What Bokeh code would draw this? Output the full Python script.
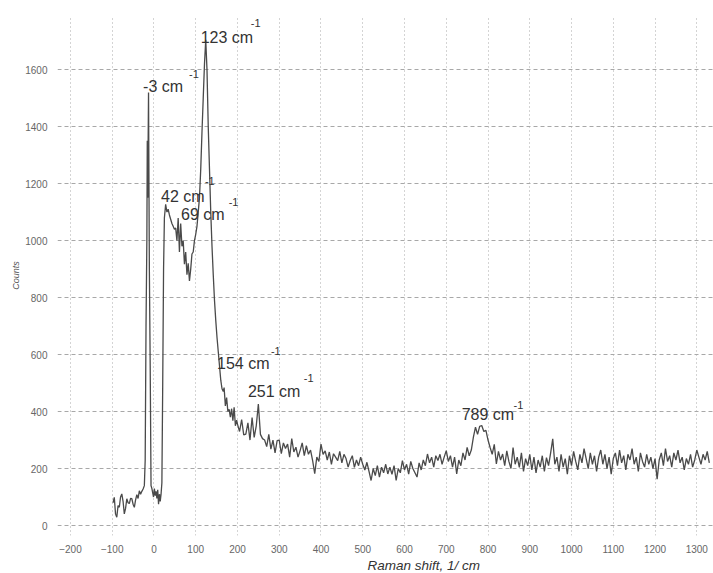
from bokeh.plotting import figure
from bokeh.models import ColumnDataSource, Range1d, FixedTicker, Title
from bokeh.core.properties import value
from bokeh.embed import file_html
from bokeh.resources import INLINE

# ---- data: Raman spectrum ----
shift_peaks = [-98, -95, -92, -89, -86, -83, -80, -77, -74, -71, -68, -65, -62, -59, -56, -53,
               -50, -47, -44, -41, -38, -35, -32, -29, -26, -23, -21, -19, -17, -16, -15, -13,
               -11, -9, -7, -5, -3, -1, 1, 3, 5, 7, 9, 11, 13, 15, 17, 19, 21, 23, 25, 28,
               31, 34, 37, 40, 43, 46, 49, 52, 55, 58, 61, 64, 67, 70, 73, 76, 79, 82, 85, 88,
               91, 94, 97, 100, 103, 106, 109, 112, 115, 118, 121, 124, 127, 130, 133, 136, 139,
               142, 145, 148, 151, 154, 157, 160, 163, 166, 168, 171, 174, 177, 180, 183, 186,
               189, 192, 195, 198]
counts_peaks = [80, 99, 40, 29, 70, 64, 100, 111, 85, 41, 60, 94, 80, 77, 95, 94,
                75, 64, 90, 108, 95, 122, 110, 120, 128, 140, 230, 700, 1000, 1350, 1150, 1520,
                900, 560, 140, 130, 115, 100, 130, 105, 120, 95, 125, 75, 110, 85, 110, 150, 500, 900, 1080, 1127,
                1100, 1110, 1090, 1075, 1060, 1050, 1040, 1044, 1000, 1079, 960, 1060, 980, 1000, 917, 960, 880, 920, 858, 900,
                953, 960, 1000, 1022, 1050, 1100, 1150, 1250, 1380, 1500, 1620, 1705, 1600, 1400, 1250, 1100, 980,
                880, 790, 720, 660, 610, 560, 510, 480, 470, 484, 420, 449, 400, 408, 380, 410,
                368, 415, 350, 370]

shift_tail = list(range(200, 1335, 5))
counts_tail = [356, 330, 372, 318, 321, 360, 300, 379, 309, 350,
               426, 320, 305, 300, 277, 320, 268, 300, 255, 298,
               300, 252, 290, 270, 286, 240, 305, 258, 275, 240,
               263, 290, 245, 280, 250, 265, 228, 182, 240, 225,
               286, 250, 262, 230, 258, 215, 252, 240, 228, 260,
               220, 250, 235, 205, 228, 245, 204, 230, 210, 240,
               215, 195, 222, 190, 158, 200, 175, 210, 170, 205,
               185, 215, 181, 205, 180, 210, 158, 200, 185, 228,
               195, 215, 180, 225, 200, 185, 170, 220, 195, 230,
               210, 251, 220, 240, 205, 245, 228, 250, 215, 240,
               263, 225, 245, 205, 240, 181, 230, 210, 255, 230,
               274, 245, 265, 310, 345, 320, 348, 351, 330, 334,
               300, 274, 250, 285, 216, 260, 230, 251, 210, 262,
               225, 200, 274, 215, 240, 204, 255, 190, 235, 210,
               250, 195, 240, 185, 230, 205, 245, 190, 238, 210,
               255, 304, 215, 240, 190, 250, 205, 235, 180, 245,
               210, 260, 225, 195, 250, 220, 270, 235, 200, 255,
               215, 245, 190, 240, 265, 215, 250, 200, 240, 180,
               235, 255, 210, 265, 220, 245, 195, 250, 230, 270,
               215, 240, 190, 255, 225, 205, 250, 215, 240, 200,
               235, 163, 230, 255, 210, 270, 225, 245, 205, 255,
               230, 265, 220, 240, 195, 235, 215, 250, 205, 230,
               265, 240, 215, 250, 230, 260, 220]

shift = shift_peaks + shift_tail
counts = counts_peaks + counts_tail

# peak labels
ann_text = ["-3 cm", "42 cm", "69 cm", "123 cm", "154 cm", "251 cm", "789 cm"]
ann_x = [-26, 17, 65, 112, 151, 225, 737]
ann_y = [1541, 1156, 1093, 1713, 567, 469, 389]
sup_text = ["-1"] * 7
sup_x = [84, 122, 179, 232, 280, 359, 861]
sup_y = [1583, 1208, 1135, 1762, 613, 518, 424]

x_ticks = list(range(-200, 1301, 100))
y_ticks = list(range(0, 1601, 200))

FONT = "Liberation Sans"

p = figure(width=713, height=573, output_backend="svg", toolbar_location=None,
           x_range=Range1d(-231, 1340), y_range=Range1d(-35, 1790),
           min_border_left=57, min_border_right=0, min_border_top=15, min_border_bottom=38)

p.outline_line_color = None
p.background_fill_color = "white"
p.border_fill_color = "white"

for ax in (p.xaxis[0], p.yaxis[0]):
    ax.axis_line_color = None
    ax.major_tick_line_color = None
    ax.minor_tick_line_color = None
    ax.major_label_text_font = FONT
    ax.major_label_text_font_size = "10px"
    ax.major_label_text_color = "#666666"

p.xaxis.ticker = FixedTicker(ticks=x_ticks)
p.yaxis.ticker = FixedTicker(ticks=y_ticks)
p.xaxis.major_label_standoff = 3
p.yaxis.major_label_standoff = 4

p.yaxis.axis_label = "Counts"
p.yaxis.axis_label_text_font = FONT
p.yaxis.axis_label_text_font_size = "9px"
p.yaxis.axis_label_text_font_style = "italic"
p.yaxis.axis_label_text_color = "#555555"
p.yaxis.axis_label_standoff = 1

p.add_layout(Title(text="Raman shift, 1/ cm", align="left", offset=310,
                   text_font=FONT, text_font_size="13.5px", text_font_style="italic",
                   text_color="#333333", standoff=0), "below")

p.xgrid.ticker = FixedTicker(ticks=x_ticks)
p.ygrid.ticker = FixedTicker(ticks=y_ticks)
p.xgrid.grid_line_color = "#a8a8a8"
p.xgrid.grid_line_dash = "1 3"
p.ygrid.grid_line_color = "#a8a8a8"
p.ygrid.grid_line_dash = "4 3"

src = ColumnDataSource(dict(x=shift, y=counts))
p.line("x", "y", source=src, line_color="#4a4a4a", line_width=1.3)

asrc = ColumnDataSource(dict(x=ann_x, y=ann_y, t=ann_text))
p.text("x", "y", text="t", source=asrc, text_font=value(FONT), text_font_size="16px",
       text_color="#333333", text_baseline="middle", text_align="left")
ssrc = ColumnDataSource(dict(x=sup_x, y=sup_y, t=sup_text))
p.text("x", "y", text="t", source=ssrc, text_font=value(FONT), text_font_size="11px",
       text_color="#333333", text_baseline="middle", text_align="left")

open("out.html", "w").write(file_html(p, INLINE))
